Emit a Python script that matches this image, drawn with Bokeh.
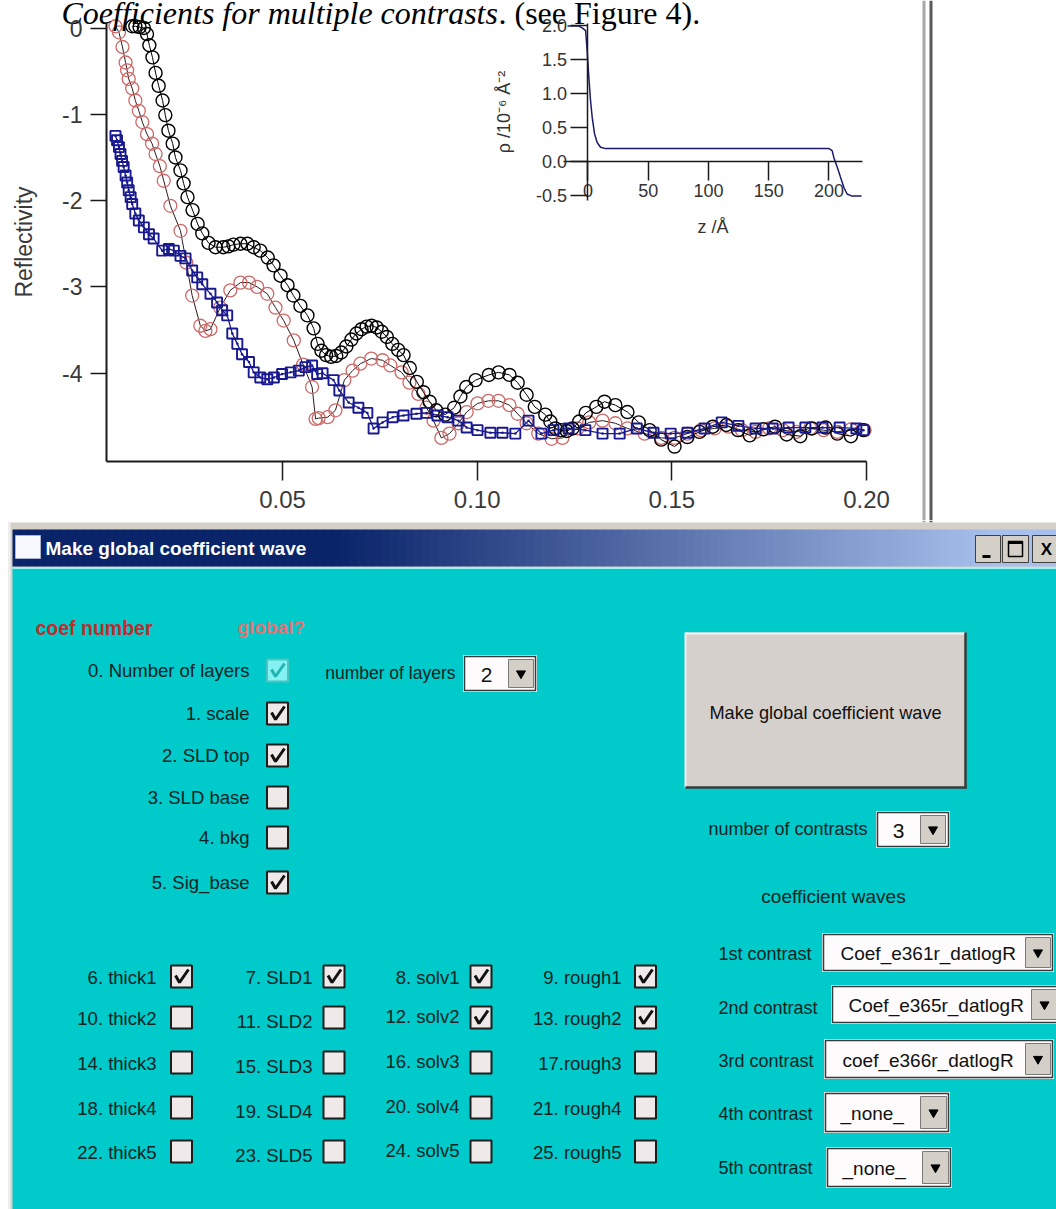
import numpy as np
from bokeh.plotting import figure
from bokeh.models import Range1d, LinearAxis, FixedTicker, PrintfTickFormatter
from bokeh.layouts import column
from bokeh.embed import file_html
from bokeh.resources import INLINE
from bokeh.core.properties import value

# ---------------- data ----------------
# reflectivity curves: (Q, log10 R)
black_points = [
    (0.0114, 0.02), (0.0122, 0.02), (0.0133, 0.01), (0.0144, 0.00), (0.0152, -0.07),
    (0.0158, -0.20), (0.0166, -0.34), (0.0174, -0.52), (0.0182, -0.67), (0.0192, -0.84),
    (0.0199, -1.01), (0.0207, -1.19), (0.0218, -1.34), (0.0225, -1.50), (0.0238, -1.65),
    (0.0246, -1.80), (0.0256, -1.96), (0.0269, -2.11), (0.0282, -2.27), (0.0294, -2.38),
    (0.0310, -2.49), (0.0328, -2.54), (0.0348, -2.54), (0.0361, -2.53), (0.0374, -2.51),
    (0.0392, -2.50), (0.0410, -2.50), (0.0426, -2.54), (0.0443, -2.58), (0.0462, -2.66),
    (0.0477, -2.75), (0.0495, -2.87), (0.0513, -2.98), (0.0528, -3.10), (0.0546, -3.22),
    (0.0564, -3.33), (0.0580, -3.48), (0.0590, -3.66), (0.0600, -3.74), (0.0612, -3.79),
    (0.0625, -3.81), (0.0638, -3.80), (0.0651, -3.76), (0.0664, -3.69), (0.0677, -3.61),
    (0.0690, -3.54), (0.0703, -3.49), (0.0716, -3.46), (0.0729, -3.45), (0.0742, -3.47),
    (0.0755, -3.52), (0.0768, -3.58), (0.0782, -3.66), (0.0797, -3.73), (0.0811, -3.79),
    (0.0827, -3.94), (0.0845, -4.10), (0.0862, -4.22), (0.0878, -4.33), (0.0895, -4.43),
    (0.0918, -4.48), (0.0941, -4.40), (0.0957, -4.27), (0.0972, -4.16), (0.0996, -4.08),
    (0.1030, -4.02), (0.1055, -3.99), (0.1083, -4.02), (0.1104, -4.11), (0.1127, -4.25),
    (0.1148, -4.39), (0.1175, -4.48), (0.1188, -4.56), (0.1201, -4.64), (0.1215, -4.66),
    (0.1230, -4.67), (0.1245, -4.64), (0.1262, -4.56), (0.1279, -4.46), (0.1306, -4.39),
    (0.1327, -4.33), (0.1355, -4.37), (0.1386, -4.45), (0.1415, -4.57), (0.1443, -4.66),
    (0.1473, -4.77), (0.1507, -4.85), (0.1540, -4.74), (0.1571, -4.68), (0.1605, -4.62),
    (0.1640, -4.60), (0.1670, -4.66), (0.1700, -4.72), (0.1735, -4.65), (0.1765, -4.62),
    (0.1795, -4.71), (0.1830, -4.73), (0.1860, -4.64), (0.1895, -4.63), (0.1925, -4.70),
    (0.1960, -4.73), (0.1992, -4.66),
]
red_points = [
    (0.0071, 0.02), (0.0080, -0.05), (0.0089, -0.22), (0.0097, -0.40), (0.0101, -0.49),
    (0.0105, -0.59), (0.0114, -0.70), (0.0122, -0.84), (0.0131, -0.96), (0.0140, -1.09),
    (0.0152, -1.23), (0.0165, -1.34), (0.0174, -1.46), (0.0185, -1.60), (0.0195, -1.77),
    (0.0212, -2.06), (0.0238, -2.35), (0.0253, -2.72), (0.0268, -3.10), (0.0289, -3.45),
    (0.0302, -3.51), (0.0315, -3.49), (0.0340, -3.24), (0.0366, -3.04), (0.0392, -2.95),
    (0.0414, -2.95), (0.0435, -3.00), (0.0461, -3.08), (0.0482, -3.24), (0.0503, -3.39),
    (0.0529, -3.62), (0.0553, -3.90), (0.0576, -4.16), (0.0585, -4.53), (0.0593, -4.52),
    (0.0616, -4.51), (0.0636, -4.43), (0.0659, -4.08), (0.0680, -3.97), (0.0700, -3.89),
    (0.0728, -3.83), (0.0757, -3.85), (0.0777, -3.91), (0.0806, -3.99), (0.0826, -4.11),
    (0.0849, -4.24), (0.0870, -4.40), (0.0888, -4.55), (0.0908, -4.75), (0.0929, -4.70),
    (0.0952, -4.58), (0.0973, -4.45), (0.1001, -4.35), (0.1029, -4.32), (0.1055, -4.32),
    (0.1083, -4.37), (0.1104, -4.47), (0.1127, -4.58), (0.1157, -4.70), (0.1191, -4.76),
    (0.1219, -4.75), (0.1258, -4.64), (0.1288, -4.57), (0.1322, -4.55), (0.1355, -4.58),
    (0.1386, -4.64), (0.1430, -4.70), (0.1473, -4.75), (0.1507, -4.75), (0.1540, -4.70),
    (0.1575, -4.66), (0.1610, -4.64), (0.1645, -4.62), (0.1680, -4.66), (0.1715, -4.68),
    (0.1750, -4.64), (0.1785, -4.66), (0.1820, -4.68), (0.1855, -4.64), (0.1890, -4.66),
    (0.1925, -4.68), (0.1960, -4.65), (0.1995, -4.66),
]
blue_points = [
    (0.0071, -1.25), (0.0075, -1.30), (0.0080, -1.38), (0.0084, -1.46), (0.0088, -1.54),
    (0.0092, -1.61), (0.0097, -1.71), (0.0101, -1.79), (0.0105, -1.88), (0.0110, -1.96),
    (0.0114, -2.04), (0.0122, -2.15), (0.0131, -2.23), (0.0144, -2.31), (0.0157, -2.39),
    (0.0169, -2.44), (0.0191, -2.58), (0.0208, -2.56), (0.0221, -2.58), (0.0238, -2.64),
    (0.0251, -2.67), (0.0268, -2.81), (0.0281, -2.89), (0.0294, -2.97), (0.0315, -3.08),
    (0.0332, -3.18), (0.0345, -3.27), (0.0358, -3.33), (0.0371, -3.54), (0.0384, -3.66),
    (0.0396, -3.78), (0.0414, -3.87), (0.0426, -3.99), (0.0443, -4.05), (0.0461, -4.07),
    (0.0478, -4.05), (0.0499, -4.01), (0.0521, -3.99), (0.0542, -3.97), (0.0559, -3.93),
    (0.0576, -3.91), (0.0589, -4.01), (0.0603, -4.00), (0.0631, -4.08), (0.0646, -4.20),
    (0.0670, -4.34), (0.0695, -4.40), (0.0718, -4.46), (0.0734, -4.64), (0.0757, -4.57),
    (0.0783, -4.51), (0.0811, -4.49), (0.0844, -4.47), (0.0870, -4.46), (0.0898, -4.49),
    (0.0924, -4.51), (0.0952, -4.55), (0.0973, -4.63), (0.1001, -4.66), (0.1034, -4.69),
    (0.1065, -4.69), (0.1098, -4.70), (0.1132, -4.55), (0.1165, -4.70), (0.1196, -4.66),
    (0.1235, -4.64), (0.1278, -4.66), (0.1322, -4.70), (0.1366, -4.70), (0.1410, -4.64),
    (0.1453, -4.69), (0.1497, -4.70), (0.1540, -4.69), (0.1584, -4.64), (0.1628, -4.57),
    (0.1671, -4.61), (0.1715, -4.64), (0.1759, -4.64), (0.1800, -4.63), (0.1843, -4.63),
    (0.1887, -4.63), (0.1931, -4.63), (0.1974, -4.64), (0.1992, -4.66),
]
# inset SLD profile: (z / Angstrom, rho / 1e-6 A^-2)
profile_points = [
    (-17, 2.00), (-8, 2.00), (-4.8, 1.97), (-2.0, 1.93), (-0.7, 1.64), (0.7, 1.24),
    (2.1, 0.90), (3.5, 0.65), (5.4, 0.41), (7.6, 0.28), (10.4, 0.21), (14.5, 0.19),
    (200, 0.19), (202.6, 0.16), (204, 0.06), (206.8, -0.08), (209.5, -0.23),
    (212.3, -0.38), (215, -0.48), (219, -0.51), (227, -0.51),
]
x_ticks = [0.05, 0.10, 0.15, 0.20]
y_ticks = [0, -1, -2, -3, -4]
inset_x_ticks = [0, 50, 100, 150, 200]
inset_y_ticks = [-0.5, 0.0, 0.5, 1.0, 1.5, 2.0]

# GUI panel texts
top_labels = ["0. Number of layers", "1. scale", "2. SLD top", "3. SLD base", "4. bkg", "5. Sig_base"]
top_checked = [True, True, True, False, False, True]
grid_labels = [
    ["6. thick1", "7. SLD1", "8. solv1", "9. rough1"],
    ["10. thick2", "11. SLD2", "12. solv2", "13. rough2"],
    ["14. thick3", "15. SLD3", "16. solv3", "17.rough3"],
    ["18. thick4", "19. SLD4", "20. solv4", "21. rough4"],
    ["22. thick5", "23. SLD5", "24. solv5", "25. rough5"],
]
grid_checked = [
    [True, True, True, True],
    [False, False, True, True],
    [False, False, False, False],
    [False, False, False, False],
    [False, False, False, False],
]
contrast_labels = ["1st contrast", "2nd contrast", "3rd contrast", "4th contrast", "5th contrast"]
contrast_waves = ["Coef_e361r_datlogR", "Coef_e365r_datlogR", "coef_e366r_datlogR", "_none_", "_none_"]

# ---------------- top figure: reflectivity plot + inset ----------------
W = 1056
TOP_H = 520
p = figure(width=W, height=TOP_H, output_backend="svg", toolbar_location=None,
           x_range=Range1d(-0.022431, 0.248804), y_range=Range1d(-5.7068, 0.31866),
           x_axis_type=None, y_axis_type=None, min_border=0,
           outline_line_color=None, background_fill_color="white", border_fill_color="white")
p.extra_x_ranges = {"z": Range1d(-487.55, 388.80), "px": Range1d(0, W)}
p.extra_y_ranges = {"rho": Range1d(-5.2950, 2.3746), "py": Range1d(TOP_H, 0)}

NARROW = "Liberation Sans Narrow, Liberation Sans"


def style_axis(ax, font, size, color, tick_out, lw=2.0):
    ax.axis_line_width = lw
    ax.axis_line_color = "#1a1a1a"
    ax.major_tick_line_width = 1.5
    ax.major_tick_line_color = "#1a1a1a"
    ax.major_tick_out = tick_out
    ax.major_tick_in = 0
    ax.minor_tick_line_color = None
    ax.major_label_text_font = font
    ax.major_label_text_font_size = size
    ax.major_label_text_color = color


xa = LinearAxis(fixed_location=-5.0232, bounds=(0.0048, 0.2),
                ticker=FixedTicker(ticks=x_ticks), formatter=PrintfTickFormatter(format="%.2f"))
style_axis(xa, NARROW, "24px", "#3a3a3a", 19)
xa.major_label_standoff = 10
p.add_layout(xa, "below")

ya = LinearAxis(fixed_location=0.0048, bounds=(-5.0232, 0.064),
                ticker=FixedTicker(ticks=y_ticks), formatter=PrintfTickFormatter(format="%d"),
                axis_label="Reflectivity")
style_axis(ya, NARROW, "23px", "#3a3a3a", 16)
ya.major_label_standoff = 8
ya.axis_label_text_font = "Liberation Sans"
ya.axis_label_text_font_size = "23px"
ya.axis_label_text_font_style = "normal"
ya.axis_label_text_color = "#3a3a3a"
ya.axis_label_standoff = 22
p.add_layout(ya, "left")

ix = LinearAxis(x_range_name="z", y_range_name="rho", fixed_location=0, bounds=(-20, 228),
                ticker=FixedTicker(ticks=inset_x_ticks), formatter=PrintfTickFormatter(format="%d"),
                axis_label="z /Å")
style_axis(ix, "Liberation Sans", "18px", "#333333", 19, lw=1.5)
ix.major_label_standoff = 4
ix.axis_label_text_font = "Liberation Sans"
ix.axis_label_text_font_size = "18px"
ix.axis_label_text_font_style = "normal"
ix.axis_label_text_color = "#333333"
ix.axis_label_standoff = 16
p.add_layout(ix, "below")

iy = LinearAxis(x_range_name="z", y_range_name="rho", fixed_location=0, bounds=(-0.58, 2.04),
                ticker=FixedTicker(ticks=inset_y_ticks), formatter=PrintfTickFormatter(format="%.1f"),
                axis_label="ρ /10⁻⁶ Å⁻²")
style_axis(iy, "Liberation Sans", "18px", "#333333", 17, lw=1.5)
iy.major_label_standoff = 4
iy.axis_label_text_font = "Liberation Sans"
iy.axis_label_text_font_size = "18px"
iy.axis_label_text_font_style = "normal"
iy.axis_label_text_color = "#333333"
iy.axis_label_standoff = 18
p.add_layout(iy, "left")

rq, rr = zip(*red_points)
bq, br = zip(*black_points)
uq, ur = zip(*blue_points)
p.line(list(rq), list(rr), line_color="#2a1a1a", line_width=1)
p.scatter(list(rq), list(rr), marker="circle", size=13, line_color="#cc6a6a",
          fill_color=None, line_width=1.3)
p.line(list(bq), list(br), line_color="black", line_width=1)
p.scatter(list(bq), list(br), marker="circle", size=13, line_color="black",
          fill_color=None, line_width=1.4)
p.line(list(uq), list(ur), line_color="#1a1a8c", line_width=1.3)
p.scatter(list(uq), list(ur), marker="square_dot", size=10, line_color="#181890",
          fill_color=None, line_width=1.9)

zz, rho = zip(*profile_points)
p.line(list(zz), list(rho), x_range_name="z", y_range_name="rho",
       line_color="#1b1b6b", line_width=1.5)

# window separator bar
p.segment(x0=[923.5, 930.5], y0=[0, 0], x1=[923.5, 930.5], y1=[TOP_H, TOP_H],
          x_range_name="px", y_range_name="py", line_color=["#a8a8a8", "#5a5a5a"], line_width=3)

# caption (cut at the top of the page, as in the source)
p.text(x=[61], y=[12], text=["Coefficients for multiple contrasts"], x_range_name="px", y_range_name="py",
       text_font=value("Liberation Serif"), text_font_style="italic", text_font_size="32px",
       text_baseline="alphabetic", text_align="left", text_color="black")
p.text(x=[498], y=[12], text=[". (see Figure 4)."], x_range_name="px", y_range_name="py",
       text_font=value("Liberation Serif"), text_font_style="normal", text_font_size="32px",
       text_baseline="alphabetic", text_align="left", text_color="black")

# ---------------- bottom figure: dialog panel ----------------
GUI_H = 1209 - TOP_H
g = figure(width=W, height=GUI_H, output_backend="svg", toolbar_location=None,
           x_range=Range1d(0, W), y_range=Range1d(1209, TOP_H),
           x_axis_type=None, y_axis_type=None, min_border=0,
           outline_line_color=None, background_fill_color="white", border_fill_color="white")

CYAN = "#00CACA"
TXT = "#0b2424"
FONT = value("Liberation Sans")


def txt(xs, ys, ss, size, align="left", color=TXT, style="normal"):
    g.text(x=xs, y=ys, text=ss, text_font=FONT, text_font_size=size, text_align=align,
           text_baseline="middle", text_color=color, text_font_style=style)


g.segment(x0=[923.5, 930.5], y0=[520, 520], x1=[923.5, 930.5], y1=[522, 522],
          line_color=["#a8a8a8", "#5a5a5a"], line_width=3)
g.quad(left=[8], right=[1060], top=[522], bottom=[1212], fill_color="#d4d0c8", line_color=None)
g.quad(left=[8], right=[10], top=[522], bottom=[1212], fill_color="#eef2f4", line_color=None)
g.quad(left=[12], right=[1060], top=[567], bottom=[1212], fill_color=CYAN, line_color=None)
g.segment(x0=[12], y0=[567.5], x1=[1060], y1=[567.5], line_color="#9ff2f2", line_width=2)

# title bar gradient
gx = np.arange(12, 1060, 8)
tt = np.clip((gx - 330) / 660.0, 0, 1)
c0 = np.array([10, 36, 106])
c1 = np.array([168, 192, 236])
gcols = ["#%02x%02x%02x" % tuple((c0 + (c1 - c0) * t).astype(int)) for t in tt]
g.quad(left=gx, right=gx + 8.6, top=529, bottom=566, fill_color=gcols, line_color=None)
g.quad(left=[15], right=[40], top=[535], bottom=[558], fill_color="#f8f8ff", line_color="#aab4d0")
g.text(x=[45], y=[548], text=["Make global coefficient wave"], text_font=FONT, text_font_size="19px",
       text_font_style="bold", text_color="white", text_baseline="middle", text_align="left")
for bx0, bx1 in [(975, 1000), (1002, 1028), (1032, 1058)]:
    g.quad(left=[bx0], right=[bx1], top=[535], bottom=[562], fill_color="#d4d0c8",
           line_color="#404040", line_width=1)
g.segment(x0=[982], y0=[556], x1=[990], y1=[556], line_color="black", line_width=3)
g.quad(left=[1008], right=[1022], top=[541], bottom=[556], fill_color=None, line_color="black", line_width=1.5)
g.segment(x0=[1008], y0=[542], x1=[1022], y1=[542], line_color="black", line_width=3)
g.text(x=[1046], y=[549], text=["X"], text_font=FONT, text_font_size="17px", text_font_style="bold",
       text_color="black", text_baseline="middle", text_align="center")

# headings
txt([35], [627], ["coef number"], "19.5px", "left", "#c02c2c", "bold")
txt([237], [627], ["global?"], "19px", "left", "#e27474", "bold")


def checkboxes(xs, ys, checked, fill="#efe9e9", border="#1c1c1c", tick="#111111"):
    g.rect(x=xs, y=ys, width=21, height=22, fill_color=fill, line_color=border, line_width=2)
    mx = [[x - 6, x - 2, x + 7] for x, c in zip(xs, checked) if c]
    my = [[y - 1, y + 6, y - 7] for y, c in zip(ys, checked) if c]
    if mx:
        g.multi_line(xs=mx, ys=my, line_color=tick, line_width=3)


top_rows = [670, 713, 755, 797, 837, 882]
txt([249] * len(top_labels), top_rows, top_labels, "18.5px", "right")
checkboxes([277], [top_rows[0]], [top_checked[0]], fill="#84f2f2", border="#4cc4c4", tick="#22b4b4")
checkboxes([277] * 5, top_rows[1:], top_checked[1:])

grid_rows = [977, 1018, 1063, 1108, 1152]
col_text_right = [156, 312, 459, 621]
col_box = [181, 333.5, 480.5, 645]
col_dy = [0, 3, -2, 0]
for r, yy in enumerate(grid_rows):
    for c in range(4):
        txt([col_text_right[c]], [yy + (col_dy[c] if r > 0 else 0)], [grid_labels[r][c]], "18.5px", "right")
    checkboxes(col_box, [yy - 1] * 4, grid_checked[r])

txt([455], [672], ["number of layers"], "17.5px", "right")


def dropdown(x0, x1, y0, y1, bx0, bx1, text, tx, align="left", size="19px"):
    g.quad(left=[x0 - 1.5], right=[x1 + 1.5], top=[y0 - 1.5], bottom=[y1 + 1.5],
           fill_color="#f2f6f6", line_color=None)
    g.quad(left=[x0], right=[x1], top=[y0], bottom=[y1], fill_color="#fdfbfb",
           line_color="#3a3a3a", line_width=1.5)
    g.quad(left=[bx0], right=[bx1], top=[y0 + 3], bottom=[y1 - 3], fill_color="#d4d0c8",
           line_color="#7a7a7a", line_width=1)
    g.scatter(x=[(bx0 + bx1) / 2], y=[(y0 + y1) / 2], marker="inverted_triangle", size=9,
              fill_color="black", line_color="black")
    txt([tx], [(y0 + y1) / 2 + 1], [text], size, align, "#111111")


dropdown(464, 535, 656, 690, 508, 533, "2", 486, "center", "21px")

# big button
g.quad(left=[685], right=[965], top=[632], bottom=[787], fill_color="#d6d0cc", line_color=None)
g.segment(x0=[685, 685], y0=[633, 632], x1=[965, 685], y1=[633, 787], line_color="#f6f6f6", line_width=2)
g.segment(x0=[685, 965], y0=[787, 632], x1=[966, 965], y1=[787, 788], line_color="#3a3a3a", line_width=2.5)
txt([825], [712], ["Make global coefficient wave"], "18.2px", "center", "#111111")

txt([867], [828], ["number of contrasts"], "18px", "right")
dropdown(877, 948, 812, 846, 920, 945, "3", 898, "center", "21px")

txt([833], [896], ["coefficient waves"], "19px", "center")
c_rows = [953, 1007, 1060, 1113, 1167]
txt([718] * 5, c_rows, contrast_labels, "18px", "left")
dd_geom = [
    (823, 1052, 934, 970, 1025, 1050, 840),
    (832, 1060, 986, 1022, 1031, 1057, 848),
    (825, 1052, 1040, 1077, 1025, 1050, 842),
    (825, 948, 1093, 1131, 920, 946, 840),
    (827, 950, 1148, 1186, 922, 948, 842),
]
for (x0, x1, y0, y1, bx0, bx1, tx), wave in zip(dd_geom, contrast_waves):
    dropdown(x0, x1, y0, y1, bx0, bx1, wave, tx, "left", "19px")

layout = column(p, g, spacing=0)
open("out.html", "w").write(file_html(layout, INLINE))
